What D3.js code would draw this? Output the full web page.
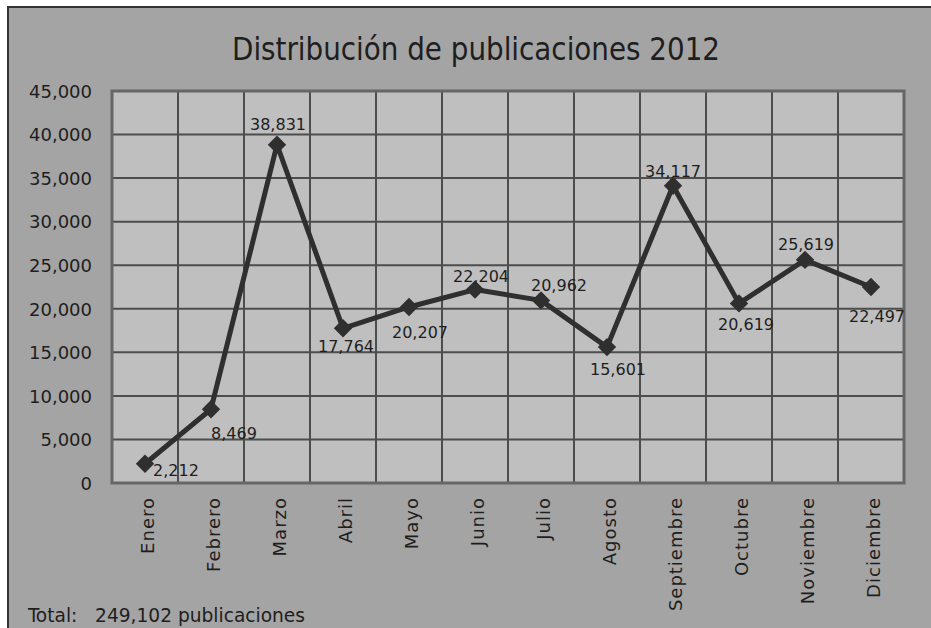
<!DOCTYPE html>
<html>
<head>
<meta charset="utf-8">
<script src="https://cdn.jsdelivr.net/npm/d3@7"></script>
<style>
  body { margin: 0; background: white; }
</style>
</head>
<body>
<div id="container"></div>
<script>
let w = 931;
let h = 628;

// data
let months = ["Enero", "Febrero", "Marzo", "Abril", "Mayo", "Junio", "Julio",
  "Agosto", "Septiembre", "Octubre", "Noviembre", "Diciembre"];
let publicaciones = [2212, 8469, 38831, 17764, 20207, 22204, 20962, 15601, 34117, 20619, 25619, 22497];
let yTicks = [0, 5000, 10000, 15000, 20000, 25000, 30000, 35000, 40000, 45000];
let total = 249102;

// where each value label sits relative to its point
let labelOffset = [[31, 12], [23, 30], [1, -15], [3, 24], [11, 31], [6, -8],
  [18, -9], [11, 28], [0, -9], [7, 27], [1, -10], [6, 35]];

let outerBg = "#a4a4a4";
let plotBg = "#bfbfbf";
let gridColor = "#4d4d4d";
let lineColor = "#2f2f2f";
let textColor = "#1e1e1e";

let plotLeft = 112, plotRight = 904, plotTop = 91, plotBottom = 483;

let viz = d3.select("#container")
  .append("svg")
    .attr("width", w)
    .attr("height", h)
    .style("display", "block")
;

viz.append("rect") // outer frame
  .attr("x", 8)
  .attr("y", 7)
  .attr("width", w)
  .attr("height", h)
  .attr("fill", outerBg)
  .attr("stroke", "#333")
  .attr("stroke-width", 2)
;

viz.append("text") // title
  .text("Distribución de publicaciones 2012")
  .attr("x", 476)
  .attr("y", 60)
  .attr("text-anchor", "middle")
  .attr("textLength", 488)
  .attr("lengthAdjust", "spacingAndGlyphs")
  .attr("font-family", "'DejaVu Sans Condensed', sans-serif")
  .attr("font-size", 32)
  .attr("fill", textColor)
;

let x = d3.scaleBand()
  .domain(months)
  .range([plotLeft, plotRight])
  .padding(0);

let y = d3.scaleLinear()
  .domain([0, 45000])
  .range([plotBottom, plotTop]);

viz.append("rect") // plot area
  .attr("x", plotLeft)
  .attr("y", plotTop)
  .attr("width", plotRight - plotLeft)
  .attr("height", plotBottom - plotTop)
  .attr("fill", plotBg)
;

// horizontal grid
viz.append("g")
  .selectAll("line")
  .data(yTicks)
  .enter()
  .append("line")
    .attr("x1", plotLeft)
    .attr("x2", plotRight)
    .attr("y1", d => y(d))
    .attr("y2", d => y(d))
    .style("stroke", gridColor)
    .style("stroke-width", 2)
;

// vertical grid
viz.append("g")
  .selectAll("line")
  .data(months.slice(1))
  .enter()
  .append("line")
    .attr("x1", d => x(d))
    .attr("x2", d => x(d))
    .attr("y1", plotTop)
    .attr("y2", plotBottom)
    .style("stroke", gridColor)
    .style("stroke-width", 2)
;

viz.append("rect") // plot border
  .attr("x", plotLeft)
  .attr("y", plotTop)
  .attr("width", plotRight - plotLeft)
  .attr("height", plotBottom - plotTop)
  .attr("fill", "none")
  .attr("stroke", "#666")
  .attr("stroke-width", 3)
;

// y axis labels
let yAxis = viz.append("g")
  .attr("transform", "translate(" + (plotLeft - 20) + ",0)")
  .call(d3.axisLeft(y).tickValues(yTicks).tickFormat(d3.format(",")).tickSize(0).tickPadding(0));
yAxis.select(".domain").remove();
yAxis.selectAll("text")
  .attr("font-family", "'DejaVu Sans', sans-serif")
  .attr("font-size", 18)
  .attr("fill", textColor)
  .attr("dy", "0.35em")
;

// x axis labels
let xAxis = viz.append("g")
  .attr("transform", "translate(0," + plotBottom + ")")
  .call(d3.axisBottom(x).tickSize(0).tickPadding(0));
xAxis.select(".domain").remove();
xAxis.selectAll("text")
  .attr("font-family", "'DejaVu Sans', sans-serif")
  .attr("font-size", 18)
  .attr("letter-spacing", 1)
  .attr("fill", textColor)
  .attr("text-anchor", "end")
  .attr("transform", "rotate(-90)")
  .attr("x", -14)
  .attr("y", 0)
  .attr("dy", "0.35em")
;
xAxis.selectAll(".tick").attr("transform", d => "translate(" + (x(d) + x.bandwidth() / 2 + 3) + ",0)");

let line = d3.line()
  .x((d, i) => x(months[i]) + x.bandwidth() / 2)
  .y(d => y(d));

viz.append("path")
  .datum(publicaciones)
  .attr("d", line)
  .attr("fill", "none")
  .attr("stroke", lineColor)
  .attr("stroke-width", 5)
  .attr("stroke-linejoin", "round")
;

viz.append("g")
  .selectAll("rect")
  .data(publicaciones)
  .enter()
  .append("rect")
    .attr("x", -6.5)
    .attr("y", -6.5)
    .attr("width", 13)
    .attr("height", 13)
    .attr("fill", lineColor)
    .attr("transform", (d, i) => "translate(" + (x(months[i]) + x.bandwidth() / 2) + "," + y(d) + ") rotate(45)")
;

viz.append("g")
  .selectAll("text")
  .data(publicaciones)
  .enter()
  .append("text")
    .text(d => d3.format(",")(d))
    .attr("x", (d, i) => x(months[i]) + x.bandwidth() / 2 + labelOffset[i][0])
    .attr("y", (d, i) => y(d) + labelOffset[i][1])
    .attr("text-anchor", "middle")
    .attr("font-family", "'DejaVu Sans', sans-serif")
    .attr("font-size", 16)
    .attr("fill", textColor)
;

viz.append("text") // total
  .text("Total:   " + d3.format(",")(total) + " publicaciones")
  .attr("x", 28)
  .attr("y", 622)
  .attr("textLength", 277)
  .attr("lengthAdjust", "spacingAndGlyphs")
  .style("white-space", "pre")
  .attr("font-family", "'DejaVu Sans Condensed', sans-serif")
  .attr("font-size", 20)
  .attr("fill", textColor)
;
</script>
</body>
</html>
